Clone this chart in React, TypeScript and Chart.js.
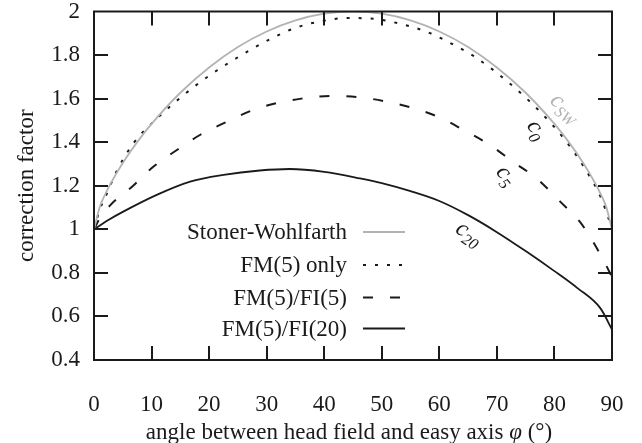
import React, { useEffect, useRef } from 'react';
import { Chart, registerables } from 'chart.js';

Chart.register(...registerables);

// ---- data ----
const ANGLES_SW = [0, 1, 2, 3, 5, 7.5, 10, 15, 20, 25, 30, 35, 40, 45, 50, 55, 60, 65, 70, 75, 80, 82.5, 85, 87, 88, 89, 90];
const VALUES_SW = [1, 1.1025, 1.1638, 1.2156, 1.3048, 1.4002, 1.4841, 1.627, 1.7429, 1.8368, 1.9083, 1.9592, 1.9899, 2, 1.9899, 1.9592, 1.9083, 1.8368, 1.7429, 1.627, 1.4841, 1.4002, 1.3048, 1.2156, 1.1638, 1.1025, 1];

const ANGLES_C0 = [0, 1, 2, 4, 7, 11, 15.5, 20, 25, 30, 35, 40, 44, 48, 53, 58, 63, 66, 72, 77.5, 82, 85.5, 88, 89.4, 90];
const VALUES_C0 = [1, 1.09, 1.15, 1.27, 1.4, 1.51, 1.615, 1.705, 1.79, 1.865, 1.925, 1.958, 1.97, 1.968, 1.945, 1.905, 1.84, 1.795, 1.675, 1.54, 1.405, 1.27, 1.15, 1.05, 1.0];

const ANGLES_C5 = [0, 1, 2.8, 6.8, 10.3, 14.4, 18.4, 23.1, 27.7, 31.7, 36, 41, 46.2, 50.9, 55.5, 60.1, 64.2, 68.8, 72.8, 76.9, 81, 84.4, 86.7, 88.8, 90];
const VALUES_C5 = [1, 1.05, 1.11, 1.2, 1.287, 1.364, 1.433, 1.494, 1.548, 1.579, 1.6, 1.612, 1.606, 1.586, 1.556, 1.513, 1.456, 1.387, 1.31, 1.234, 1.127, 1.035, 0.943, 0.844, 0.78];

const ANGLES_C20 = [0, 2.5, 5, 10.9, 16.7, 22.5, 28.8, 34, 40, 46.2, 50, 55, 60, 65, 70, 75, 80, 84, 88, 90];
const VALUES_C20 = [1, 1.043, 1.08, 1.158, 1.219, 1.25, 1.27, 1.277, 1.264, 1.234, 1.212, 1.175, 1.13, 1.065, 0.987, 0.9, 0.808, 0.73, 0.637, 0.54];

const SERIES_NAMES = ['Stoner-Wohlfarth', 'FM(5) only', 'FM(5)/FI(5)', 'FM(5)/FI(20)'];
const X_TICKS = [0, 10, 20, 30, 40, 50, 60, 70, 80, 90];
const Y_TICKS = [0.4, 0.6, 0.8, 1, 1.2, 1.4, 1.6, 1.8, 2];
const X_TITLE_PARTS = ['angle between head field and easy axis ', 'φ', ' (°)'];
const Y_TITLE = 'correction factor';

// curve annotations: c with subscript, placed in data coordinates
const CURVE_LABELS = [
  { sub: 'SW', x: 81.7, y: 1.552, angle: 42, color: '#b3b3b3' },
  { sub: '0', x: 76.7, y: 1.453, angle: 58, color: '#1a1a1a' },
  { sub: '5', x: 71.4, y: 1.242, angle: 52, color: '#1a1a1a' },
  { sub: '20', x: 65.0, y: 0.975, angle: 33, color: '#1a1a1a' },
];

const FONT = '"Liberation Serif", "DejaVu Serif", serif';
const FS = 23;
const INK = '#1a1a1a';

const toPts = (xs: number[], ys: number[]) => xs.map((x, i) => ({ x, y: ys[i] }));

const framePlugin = {
  id: 'frame',
  afterDatasetsDraw(chart: any) {
    const { ctx, chartArea } = chart;
    const xs = chart.scales.x;
    const ys = chart.scales.y;
    const { left, right, top, bottom } = chartArea;
    ctx.save();
    ctx.strokeStyle = INK;
    ctx.lineWidth = 2;
    ctx.setLineDash([]);
    ctx.strokeRect(left, top, right - left, bottom - top);
    const tl = 14;
    ctx.beginPath();
    X_TICKS.forEach((t) => {
      const px = Math.round(xs.getPixelForValue(t));
      if (Math.abs(px - left) < 2 || Math.abs(px - right) < 2) return;
      ctx.moveTo(px, bottom);
      ctx.lineTo(px, bottom - tl);
      ctx.moveTo(px, top);
      ctx.lineTo(px, top + tl);
    });
    Y_TICKS.forEach((t) => {
      const py = Math.round(ys.getPixelForValue(t));
      if (Math.abs(py - top) < 2 || Math.abs(py - bottom) < 2) return;
      ctx.moveTo(left, py);
      ctx.lineTo(left + tl, py);
      ctx.moveTo(right, py);
      ctx.lineTo(right - tl, py);
    });
    ctx.stroke();

    // curve labels
    CURVE_LABELS.forEach((lb) => {
      const px = xs.getPixelForValue(lb.x);
      const py = ys.getPixelForValue(lb.y);
      ctx.save();
      ctx.translate(px, py);
      ctx.rotate((lb.angle * Math.PI) / 180);
      ctx.fillStyle = lb.color;
      ctx.textBaseline = 'alphabetic';
      ctx.font = `italic 24px ${FONT}`;
      const cw = ctx.measureText('c').width;
      ctx.font = `italic 16px ${FONT}`;
      const sw = ctx.measureText(lb.sub).width;
      const total = cw + sw;
      ctx.font = `italic 24px ${FONT}`;
      ctx.textAlign = 'left';
      ctx.fillText('c', -total / 2, 5);
      ctx.font = `italic 16px ${FONT}`;
      ctx.fillText(lb.sub, -total / 2 + cw, 10);
      ctx.restore();
    });

    // legend (text right aligned, sample on the right)
    const legX = 347;
    const sample0 = 363;
    const sample1 = 405;
    const rowY = [232, 265, 297.5, 328.5];
    chart.data.datasets.forEach((ds: any, i: number) => {
      const y = rowY[i];
      ctx.fillStyle = INK;
      ctx.font = `${FS}px ${FONT}`;
      ctx.textAlign = 'right';
      ctx.textBaseline = 'middle';
      ctx.fillText(ds.label, legX, y + 1);
      ctx.strokeStyle = ds.borderColor;
      ctx.lineWidth = ds.borderWidth;
      ctx.setLineDash(ds.borderDash || []);
      ctx.beginPath();
      ctx.moveTo(sample0, y);
      ctx.lineTo(sample1, y);
      ctx.stroke();
    });
    ctx.setLineDash([]);

    // x title with italic phi
    ctx.fillStyle = INK;
    ctx.textBaseline = 'middle';
    ctx.textAlign = 'left';
    const fonts = [`${FS}px ${FONT}`, `italic ${FS}px ${FONT}`, `${FS}px ${FONT}`];
    let w = 0;
    X_TITLE_PARTS.forEach((p, i) => {
      ctx.font = fonts[i];
      w += ctx.measureText(p).width;
    });
    let cx = (left + right) / 2 - 4 - w / 2;
    const ty = 433;
    X_TITLE_PARTS.forEach((p, i) => {
      ctx.font = fonts[i];
      ctx.fillText(p, cx, ty);
      cx += ctx.measureText(p).width;
    });
    ctx.restore();
  },
};

export default function App() {
  const ref = useRef<HTMLCanvasElement | null>(null);

  useEffect(() => {
    if (!ref.current) return;
    const chart = new Chart(ref.current, {
      type: 'line',
      data: {
        datasets: [
          {
            label: SERIES_NAMES[0],
            data: toPts(ANGLES_SW, VALUES_SW),
            borderColor: '#b3b3b3',
            borderWidth: 1.8,
            pointRadius: 0,
            cubicInterpolationMode: 'monotone',
            fill: false,
          },
          {
            label: SERIES_NAMES[1],
            data: toPts(ANGLES_C0, VALUES_C0),
            borderColor: INK,
            borderWidth: 2,
            borderDash: [3, 9],
            pointRadius: 0,
            cubicInterpolationMode: 'monotone',
            fill: false,
          },
          {
            label: SERIES_NAMES[2],
            data: toPts(ANGLES_C5, VALUES_C5),
            borderColor: INK,
            borderWidth: 2,
            borderDash: [10, 17],
            pointRadius: 0,
            cubicInterpolationMode: 'monotone',
            fill: false,
          },
          {
            label: SERIES_NAMES[3],
            data: toPts(ANGLES_C20, VALUES_C20),
            borderColor: INK,
            borderWidth: 1.8,
            pointRadius: 0,
            cubicInterpolationMode: 'monotone',
            fill: false,
          },
        ],
      } as any,
      options: {
        animation: false,
        responsive: false,
        maintainAspectRatio: false,
        layout: { padding: { top: 11.5, right: 30, bottom: 0, left: 0 } },
        plugins: {
          legend: { display: false },
          tooltip: { enabled: false },
        },
        scales: {
          x: {
            type: 'linear',
            min: 0,
            max: 90,
            grid: { display: false, drawTicks: false },
            border: { display: false },
            afterBuildTicks: (s: any) => {
              s.ticks = X_TICKS.map((v) => ({ value: v }));
            },
            afterFit: (s: any) => {
              s.height = 83;
              s.paddingLeft = 0;
              s.paddingRight = 0;
              s.paddingTop = 0;
              s.paddingBottom = 0;
            },
            ticks: {
              padding: 31,
              color: INK,
              font: { family: FONT, size: FS },
              maxRotation: 0,
              autoSkip: false,
              callback: (v: any) => String(v),
            },
          },
          y: {
            type: 'linear',
            min: 0.4,
            max: 2,
            grid: { display: false, drawTicks: false },
            border: { display: false },
            afterBuildTicks: (s: any) => {
              s.ticks = Y_TICKS.map((v) => ({ value: v }));
            },
            afterFit: (s: any) => {
              s.width = 94;
              s.paddingLeft = 0;
              s.paddingRight = 0;
              s.paddingTop = 0;
              s.paddingBottom = 0;
            },
            ticks: {
              padding: 14,
              color: INK,
              font: { family: FONT, size: FS },
              autoSkip: false,
              callback: (v: any) => String(Math.round(Number(v) * 10) / 10),
            },
            title: {
              display: true,
              text: Y_TITLE,
              color: INK,
              font: { family: FONT, size: FS, weight: 'normal' },
              padding: { top: 13, bottom: 0 },
            },
          },
        },
      } as any,
      plugins: [framePlugin],
    });
    return () => chart.destroy();
  }, []);

  return (
    <div style={{ position: 'fixed', left: 0, top: 0, width: 642, height: 443, background: '#fff' }}>
      <canvas ref={ref} width={642} height={443} style={{ display: 'block', width: 642, height: 443 }} />
    </div>
  );
}
